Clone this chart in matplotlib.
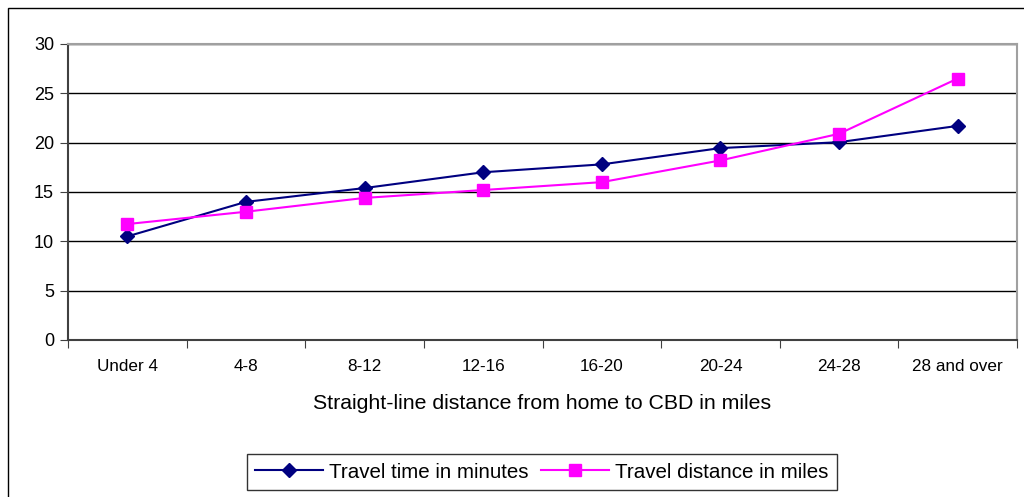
import matplotlib.pyplot as plt
import numpy as np
from matplotlib.patches import Rectangle

plt.rcParams['font.family'] = ['Liberation Sans', 'DejaVu Sans']

categories = ['Under 4', '4-8', '8-12', '12-16', '16-20', '20-24', '24-28', '28 and over']
travelTime = [10.5, 14.0, 15.4, 17.0, 17.8, 19.45, 20.05, 21.7]
travelDist = [11.75, 13.0, 14.4, 15.2, 16.0, 18.2, 20.9, 26.5]

fig = plt.figure(figsize=(10.24, 4.97), dpi=100)
ax = fig.add_axes([68/1024, 1 - 340/497, (1017-68)/1024, (340-44)/497])

# outer frame like the spreadsheet chart area
fig.patches.append(Rectangle((8/1024, -0.01), 1.0, 1 - 8/497 + 0.01,
                             transform=fig.transFigure, fill=False,
                             edgecolor='k', linewidth=1.0))

x = np.arange(len(categories))
ax.plot(x, travelTime, color='#000080', marker='D', markersize=7, linewidth=1.5,
        label='Travel time in minutes', zorder=3)
ax.plot(x, travelDist, color='#FF00FF', marker='s', markersize=9, linewidth=1.5,
        label='Travel distance in miles', zorder=3)

ax.set_xlim(-0.5, len(categories) - 0.5)
ax.set_ylim(0, 30)
ax.set_yticks(np.arange(0, 31, 5))
ax.yaxis.grid(True, color='k', linewidth=1.0)
ax.set_axisbelow(True)

# ticks on category boundaries, labels centred between them
ax.set_xticks(np.arange(-0.5, len(categories), 1.0))
ax.set_xticklabels([])
ax.set_xticks(x, minor=True)
ax.set_xticklabels(categories, minor=True)
ax.tick_params(axis='x', which='minor', length=0, pad=14, labelsize=12.3)
ax.tick_params(axis='x', which='major', length=6, direction='out', color='#404040')
ax.tick_params(axis='y', length=6, direction='out', labelsize=13, pad=4, color='#404040')

for s in ['top', 'right']:
    ax.spines[s].set_color('#a0a0a0')
    ax.spines[s].set_linewidth(1.5)
for s in ['left', 'bottom']:
    ax.spines[s].set_color('#404040')
    ax.spines[s].set_linewidth(1.5)

ax.set_xlabel('Straight-line distance from home to CBD in miles', fontsize=15.3, labelpad=14)

leg = fig.legend(loc='center', bbox_to_anchor=(542/1024, 1 - 472/497), ncol=2,
                 fontsize=14.8, frameon=True, fancybox=False, edgecolor='k',
                 handlelength=3.3, handletextpad=0.3, columnspacing=0.6,
                 borderpad=0.4)
leg.get_frame().set_linewidth(1.0)

fig.savefig('out.png', dpi=100)
